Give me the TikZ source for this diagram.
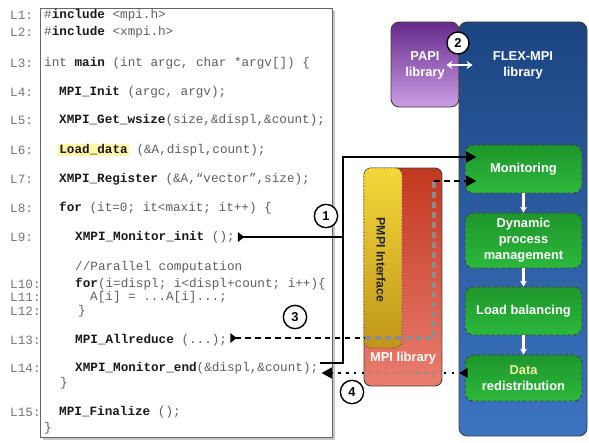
\documentclass[tikz,border=0pt]{standalone}
\usepackage{fontspec}
\setsansfont{Liberation Sans}
\setmonofont{Liberation Mono}
\usetikzlibrary{positioning, arrows.meta, calc, shadows}

\definecolor{codegray}{HTML}{5E5E5E}
\definecolor{lngray}{HTML}{747474}
\definecolor{kwblack}{HTML}{1A1A1A}
\definecolor{hlyellow}{HTML}{FFF7A8}
\definecolor{papitop}{HTML}{672A8C}
\definecolor{papibot}{HTML}{CB9EE3}
\definecolor{flextop}{HTML}{1C4582}
\definecolor{flexbot}{HTML}{3C74C2}
\definecolor{stagetop}{HTML}{1E962B}
\definecolor{stagebot}{HTML}{2CB83C}
\definecolor{mpitop}{HTML}{C2381F}
\definecolor{mpibot}{HTML}{EA7D70}
\definecolor{pmpitop}{HTML}{F3D83A}
\definecolor{pmpibot}{HTML}{C0951A}
\definecolor{datayellow}{HTML}{F0F3A6}
\definecolor{passgray}{HTML}{8C8C8C}

\newcommand{\codefont}{\ttfamily\fontsize{10.8}{12}\selectfont}
\newcommand{\boxfont}{\sffamily\bfseries\fontsize{11}{13.5}\selectfont}
\newcommand{\kw}[1]{\textbf{\textcolor{kwblack}{#1}}}
\newcommand{\hlbox}[1]{{\setlength{\fboxsep}{1pt}\colorbox{hlyellow}{#1}}}

\begin{document}
\begin{tikzpicture}[
  x=0.03cm, y=-0.03cm,
  panel/.style={draw=gray!80!black, fill=white, line width=0.6pt,
    drop shadow={shadow xshift=2.5pt, shadow yshift=-2.5pt, opacity=0.45},
    anchor=north west, inner sep=0pt},
  lnum/.style={anchor=west, inner sep=0pt, font=\codefont, text=lngray},
  codeln/.style={anchor=west, inner sep=0pt, font=\codefont, text=codegray},
  lib/.style={draw=black!75, line width=0.8pt, rounded corners=7pt,
    inner sep=0pt},
  libtext/.style={font=\boxfont, text=white, align=center},
  stage/.style={draw=black!75, densely dashed, line width=0.8pt,
    rounded corners=7pt, top color=stagetop, bottom color=stagebot,
    minimum width=3.51cm, align=center, font=\boxfont, text=white,
    inner sep=0pt},
  marker/.style={circle, draw=black, fill=white, line width=1.2pt,
    minimum size=0.7cm, inner sep=0pt, font=\sffamily\bfseries\fontsize{11}{11}\selectfont},
  flow/.style={line width=2.5pt, black},
  stepline/.style={white, line width=1.8pt, -{Stealth[length=5pt,width=6pt]}},
  tailtip/.style={{Triangle[reversed,length=5.5pt,width=8pt]}-},
  headtip/.style={-{Triangle[length=9pt,width=9pt]}},
  dashflow/.style={flow, dash pattern=on 5pt off 3.5pt},
  dotflow/.style={flow, dash pattern=on 2pt off 4.6pt},
]
\useasboundingbox (0,0) rectangle (589,442);

% --- code listing ---
\node[panel, minimum width=8.76cm, minimum height=12.87cm] (panel) at (40,8) {};

\node[lnum] (l1)  at (10,15)  {L1:};
\node[lnum] (l2)  at (10,32)  {L2:};
\node[lnum] (l3)  at (10,63)  {L3:};
\node[lnum] (l4)  at (10,92)  {L4:};
\node[lnum] (l5)  at (10,120) {L5:};
\node[lnum] (l6)  at (10,150) {L6:};
\node[lnum] (l7)  at (10,179) {L7:};
\node[lnum] (l8)  at (10,208) {L8:};
\node[lnum] (l9)  at (10,237) {L9:};
\node[lnum] (l10) at (10,284) {L10:};
\node[lnum] (l11) at (10,297) {L11:};
\node[lnum] (l12) at (10,311) {L12:};
\node[lnum] (l13) at (10,340) {L13:};
\node[lnum] (l14) at (10,368) {L14:};
\node[lnum] (l15) at (10,412) {L15:};

\node[codeln] (c1)  at (44,15)  {\#\kw{include} <mpi.h>};
\node[codeln] (c2)  at (44,32)  {\#\kw{include} <xmpi.h>};
\node[codeln] (c3)  at (44,63)  {int \kw{main} (int argc, char *argv[]) \{};
\node[codeln] (c4)  at (59,92)  {\kw{MPI\_Init} (argc, argv);};
\node[codeln] (c5)  at (59,120) {\kw{XMPI\_Get\_wsize}(size,\&displ,\&count);};
\node[codeln] (c6)  at (58,150) {\hlbox{\kw{Load\_data}} (\&A,displ,count);};
\node[codeln] (c7)  at (59,179) {\kw{XMPI\_Register} (\&A,“vector”,size);};
\node[codeln] (c8)  at (59,208) {\kw{for} (it=0; it<maxit; it++) \{};
\node[codeln] (c9)  at (75,237) {\kw{XMPI\_Monitor\_init} ();};
\node[codeln] (cmt) at (75,267) {//Parallel computation};
\node[codeln] (c10) at (75,284) {\kw{for}(i=displ; i<displ+count; i++)\{};
\node[codeln] (c11) at (90,297) {A[i] = ...A[i]...;};
\node[codeln] (c12) at (78,311) {\}};
\node[codeln] (c13) at (75,340) {\kw{MPI\_Allreduce} (...);};
\node[codeln] (c14) at (75,368) {\kw{XMPI\_Monitor\_end}(\&displ,\&count);};
\node[codeln] (c8e) at (60,383) {\}};
\node[codeln] (c15) at (59,412) {\kw{MPI\_Finalize} ();};
\node[codeln] (c3e) at (44,428) {\}};

% --- libraries ---
\node[lib, top color=papitop, bottom color=papibot,
  minimum width=2.04cm, minimum height=2.55cm] (papi) at (425,64.5) {};
\node[libtext] (papilbl) at (425,65) {PAPI\\library};
\node[lib, top color=flextop, bottom color=flexbot,
  minimum width=3.84cm, minimum height=12.42cm] (flex) at (523,229) {};
\node[libtext] (flexlbl) at (523,65) {FLEX-MPI\\library};

\node[lib, rounded corners=6pt, top color=mpitop, bottom color=mpibot,
  minimum width=2.34cm, minimum height=6.54cm] (mpilib) at (403,277) {};
\node[libtext] (mpilbl) at (403,358) {MPI library};
\node[lib, dotted, rounded corners=6pt, top color=pmpitop, bottom color=pmpibot,
  minimum width=1.14cm, minimum height=5.4cm] (pmpi) at (383,258) {};
\node[font=\sffamily\bfseries\fontsize{10.5}{12}\selectfont, text=black!85,
  rotate=-90] (pmpilbl) at (381,260) {PMPI Interface};

% --- FLEX-MPI stages ---
\node[stage, minimum height=1.44cm] (mon) at (523.5,169) {Monitoring};
\node[stage, minimum height=1.65cm] (dpm) at (523.5,240.5) {Dynamic\\process\\management};
\node[stage, minimum height=1.44cm] (lb) at (523.5,311) {Load balancing};
\node[stage, minimum height=1.38cm] (redist) at (523.5,378)
  {\textcolor{datayellow}{Data}\\redistribution};

\draw[stepline] (mon) -- (dpm);
\draw[stepline] (dpm) -- (lb);
\draw[stepline] (lb) -- (redist);

\draw[white, line width=1.8pt, {Stealth[length=5pt,width=7pt]}-{Stealth[length=5pt,width=7pt]}]
  (papi.east |- papilbl) ++(-13,0) coordinate (pl) -- ($(pl)+(26,0)$) coordinate (pr);

% --- monitoring calls (1) ---
\coordinate (j1) at (343,157);
\draw[flow, tailtip] ($(c9.east)+(3,0)$) -- (c9.east -| j1);
\draw[flow, tailtip, headtip] ($(c14.east)+(2,-5)$) -| (j1)
  -- ($(j1 -| mon.west)+(12,0)$);

% --- intercepted MPI call (3) ---
\coordinate (g1) at (365,338);
\coordinate (g2) at (434,181);
\draw[dashflow, tailtip] ($(c13.east)+(3,-2)$) -- (g1);
\draw[passgray, line width=2.6pt, dash pattern=on 5pt off 3.5pt] (g1) -| (g2);
\draw[dashflow, headtip] (g2) -- ($(g2 -| mon.west)+(12,0)$);

% --- redistribution back to the code (4) ---
\coordinate (m1) at (442,373);
\coordinate (m2) at (364,373);
\draw[dotflow, {Triangle[reversed,length=7pt,width=8pt]}-] ($(redist.west)+(3,-5)$) -- (m1);
\draw[dotflow, passgray] (m1) -- (m2);
\draw[dotflow, -{Triangle[length=9pt,width=9pt]}] (m2) -- ($(c14.east)+(3,5)$);

% --- step markers ---
\node[marker] (n1) at (326,216) {1};
\node[marker, minimum size=0.66cm] (n2) at (458,43) {2};
\node[marker] (n3) at (295,317) {3};
\node[marker] (n4) at (352,392) {4};

\end{tikzpicture}
\end{document}
